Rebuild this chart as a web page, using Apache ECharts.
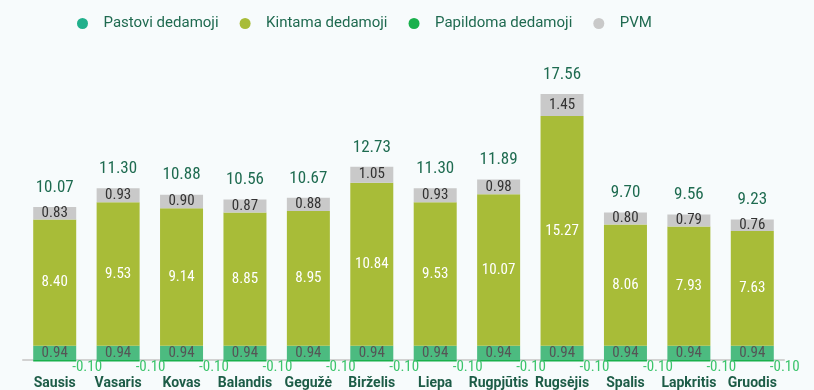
<!DOCTYPE html>
<html>
<head>
<meta charset="utf-8">
<script src="https://cdn.jsdelivr.net/npm/echarts@6/dist/echarts.min.js"></script>
<style>
  html, body { margin: 0; padding: 0; background: #f7fbfc; }
  #chart { width: 814px; height: 390px; }
</style>
</head>
<body>
<div id="chart"></div>
<script>
// Monthly electricity price components (ct/kWh)
const months = ['Sausis', 'Vasaris', 'Kovas', 'Balandis', 'Gegužė', 'Birželis',
                'Liepa', 'Rugpjūtis', 'Rugsėjis', 'Spalis', 'Lapkritis', 'Gruodis'];
const fixedPart      = [0.94, 0.94, 0.94, 0.94, 0.94, 0.94, 0.94, 0.94, 0.94, 0.94, 0.94, 0.94];
const variablePart   = [8.40, 9.53, 9.14, 8.85, 8.95, 10.84, 9.53, 10.07, 15.27, 8.06, 7.93, 7.63];
const additionalPart = [-0.10, -0.10, -0.10, -0.10, -0.10, -0.10, -0.10, -0.10, -0.10, -0.10, -0.10, -0.10];
const vatPart        = [0.83, 0.93, 0.90, 0.87, 0.88, 1.05, 0.93, 0.98, 1.45, 0.80, 0.79, 0.76];

const totals = months.map((_, i) =>
  fixedPart[i] + variablePart[i] + additionalPart[i] + vatPart[i]);

const numFont = "'Liberation Sans Narrow', 'Roboto Condensed', 'DejaVu Sans Condensed', sans-serif";

const chart = echarts.init(document.getElementById('chart'), null, { renderer: 'canvas' });

chart.setOption({
  backgroundColor: '#f7fbfc',
  animation: false,
  legend: {
    top: 11,
    left: 72,
    itemWidth: 32,
    itemHeight: 11,
    itemGap: 21,
    icon: 'circle',
    textStyle: { color: '#1f6a50', fontSize: 15, fontFamily: 'Roboto, sans-serif' },
    data: [
      { name: 'Pastovi dedamoji', itemStyle: { color: '#21b08c' } },
      { name: 'Kintama dedamoji' },
      { name: 'Papildoma dedamoji' },
      { name: 'PVM' }
    ]
  },
  grid: { left: 23, right: 30, top: 89, bottom: 25 },
  xAxis: {
    type: 'category',
    data: months,
    axisLine: { onZero: true, lineStyle: { color: '#d2d2d2', width: 2 } },
    axisTick: { show: false },
    axisLabel: {
      margin: 13,
      color: '#1d5c47',
      fontSize: 14,
      fontWeight: 'bold',
      fontFamily: 'Roboto, sans-serif',
      interval: 0
    }
  },
  yAxis: {
    type: 'value',
    min: -0.2,
    max: 18,
    show: false,
    splitLine: { show: false }
  },
  series: [
    {
      name: 'Pastovi dedamoji',
      type: 'bar',
      stack: 'total',
      barWidth: 43,
      itemStyle: { color: '#4cbb80' },
      label: {
        show: true, position: 'inside', color: '#555555',
        fontSize: 15, fontFamily: numFont,
        formatter: p => p.value.toFixed(2)
      },
      data: fixedPart
    },
    {
      name: 'Kintama dedamoji',
      type: 'bar',
      stack: 'total',
      barWidth: 43,
      itemStyle: { color: '#a8bc38' },
      label: {
        show: true, position: 'inside', color: '#ffffff',
        fontSize: 15, fontFamily: numFont,
        formatter: p => p.value.toFixed(2)
      },
      data: variablePart
    },
    {
      name: 'Papildoma dedamoji',
      type: 'bar',
      stack: 'total',
      barWidth: 43,
      itemStyle: { color: '#19b04c' },
      label: {
        show: true, position: 'right', offset: [-9, 7], color: '#3cc46c',
        fontSize: 15, fontFamily: numFont,
        formatter: p => p.value.toFixed(2)
      },
      data: additionalPart
    },
    {
      name: 'PVM',
      type: 'bar',
      stack: 'total',
      barWidth: 43,
      itemStyle: { color: '#c9c9c9' },
      label: {
        show: true, position: 'inside', color: '#333333',
        fontSize: 15, fontFamily: numFont,
        formatter: p => p.value.toFixed(2)
      },
      data: vatPart
    },
    {
      name: 'Iš viso',
      type: 'bar',
      stack: 'total',
      barWidth: 43,
      itemStyle: { color: 'transparent' },
      label: {
        show: true, position: 'top', distance: 11, color: '#1e6b50',
        fontSize: 17, fontWeight: 'normal', fontFamily: numFont,
        formatter: p => totals[p.dataIndex].toFixed(2)
      },
      data: months.map(() => 0)
    }
  ]
});
</script>
</body>
</html>
